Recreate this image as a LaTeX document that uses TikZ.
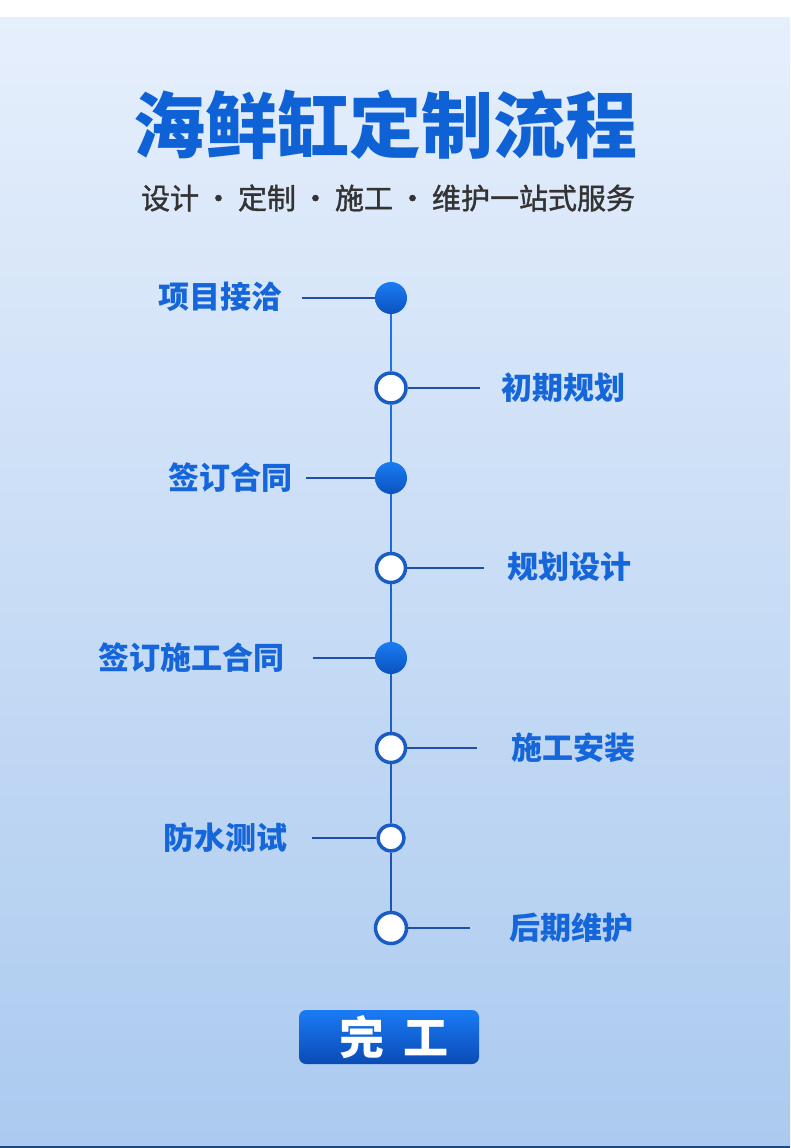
\documentclass[tikz,border=0pt]{standalone}
\usepackage{fontspec}
\newfontfamily\cjk{Noto Sans CJK SC}
\newfontfamily\cjkm{Noto Sans CJK SC}[FakeBold=1.3]
\definecolor{bgtop}{HTML}{E6EFFC}
\definecolor{bgbot}{HTML}{ABCAEF}
\definecolor{bline}{HTML}{1C4A80}
\definecolor{titleblue}{HTML}{0E62D6}
\definecolor{labelblue}{HTML}{1466DA}
\definecolor{subgray}{HTML}{333333}
\definecolor{linetop}{HTML}{1B74EA}
\definecolor{linebot}{HTML}{1B54B4}
\definecolor{ringblue}{HTML}{1A5CC6}
\definecolor{conblue}{HTML}{1F4FA8}
\definecolor{dottop}{HTML}{1A7CF2}
\definecolor{dotbot}{HTML}{0B52C0}
\definecolor{btntop}{HTML}{1A7BF5}
\definecolor{btnbot}{HTML}{0A4BB5}
\newcommand{\sdot}{\hspace{5pt}·\hspace{5pt}}
\tikzset{
  dotfill/.style={circle, inner sep=0pt, minimum size=32pt, top color=dottop, bottom color=dotbot, draw=none},
  ring/.style={circle, inner sep=0pt, minimum size=#1, fill=white, draw=ringblue, line width=3.5pt},
  lbl/.style={font=\cjk\bfseries\fontsize{31pt}{31pt}\selectfont, text=labelblue, inner sep=0pt},
  conn/.style={draw=conblue, line width=1.3pt},
  spine/.style={line width=2.2pt}
}
\begin{document}
\begin{tikzpicture}[x=1pt,y=-1pt]
\useasboundingbox (0,0) rectangle (790,1148);
\fill[white] (0,0) rectangle (790,18);
\shade[top color=bgtop, bottom color=bgbot] (0,18) rectangle (790,1145.5);
\fill[bline] (0,1145.5) rectangle (790,1148);

% title
\node[font=\cjk\bfseries\fontsize{72pt}{72pt}\selectfont, text=titleblue, inner sep=0pt] (title) at (385,125) {海鲜缸定制流程};
\node[font=\cjkm\fontsize{29pt}{29pt}\selectfont, text=subgray, inner sep=0pt] (sub) at (388,198) {设计\sdot 定制\sdot 施工\sdot 维护一站式服务};

% circles
\node[dotfill] (c1) at (391,298) {};
\node[ring=30pt] (c2) at (391,388) {};
\node[dotfill] (c3) at (391,478) {};
\node[ring=29pt] (c4) at (391,568) {};
\node[dotfill] (c5) at (391,658) {};
\node[ring=29pt] (c6) at (391,748) {};
\node[ring=26pt] (c7) at (391,838) {};
\node[ring=31pt] (c8) at (391,928) {};

% spine
\draw[spine, draw=linetop] (c1) -- (c2);
\draw[spine, draw=linetop!85!linebot] (c2) -- (c3);
\draw[spine, draw=linetop!70!linebot] (c3) -- (c4);
\draw[spine, draw=linetop!55!linebot] (c4) -- (c5);
\draw[spine, draw=linetop!40!linebot] (c5) -- (c6);
\draw[spine, draw=linetop!25!linebot] (c6) -- (c7);
\draw[spine, draw=linebot] (c7) -- (c8);

% labels
\node[lbl] (l1) at (220,297) {项目接洽};
\node[lbl] (l2) at (563,388) {初期规划};
\node[lbl] (l3) at (230,478) {签订合同};
\node[lbl] (l4) at (569,567) {规划设计};
\node[lbl] (l5) at (191,658) {签订施工合同};
\node[lbl] (l6) at (573,748) {施工安装};
\node[lbl] (l7) at (225,838) {防水测试};
\node[lbl] (l8) at (571,928) {后期维护};

% connector ends
\coordinate (e1) at (302,298);
\coordinate (e2) at (480,388);
\coordinate (e3) at (306,478);
\coordinate (e4) at (484,568);
\coordinate (e5) at (313,658);
\coordinate (e6) at (477,748);
\coordinate (e7) at (312,838);
\coordinate (e8) at (470,928);
\draw[conn] (e1) -- (c1);
\draw[conn] (e2) -- (c2);
\draw[conn] (e3) -- (c3);
\draw[conn] (e4) -- (c4);
\draw[conn] (e5) -- (c5);
\draw[conn] (e6) -- (c6);
\draw[conn] (e7) -- (c7);
\draw[conn] (e8) -- (c8);

% button
\shade[top color=btntop, bottom color=btnbot, rounded corners=7pt] (299,1010) rectangle (479,1064);
\node[font=\cjk\bfseries\fontsize{45pt}{45pt}\selectfont, text=white, inner sep=0pt] (done) at (394,1037) {完\hspace{20pt}工};
\end{tikzpicture}
\end{document}
